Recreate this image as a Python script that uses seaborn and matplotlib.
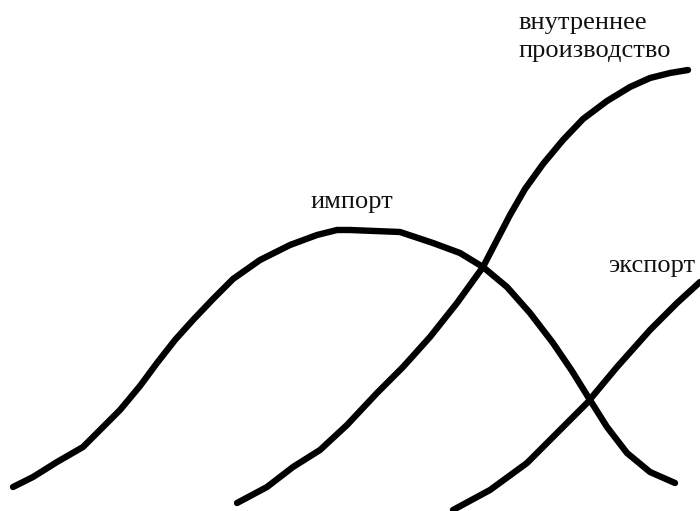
import pandas as pd
import matplotlib.pyplot as plt
import seaborn as sns

# ================================================================
# curves, in picture pixels (y grows downward)
import_x = [13, 33, 57, 83, 100, 120, 140, 157, 175, 193, 213, 233, 260, 290, 317, 337,
            350, 400, 433, 460, 483, 507, 530, 553, 572, 590, 607, 627, 650, 675]
import_y = [487, 477, 462, 447, 430, 410, 386, 363, 340, 320, 299, 279, 260, 245, 235, 230,
            230, 232, 243, 253, 267, 287, 313, 343, 371, 400, 427, 453, 472, 483]

domestic_x = [237, 267, 293, 320, 347, 377, 403, 430, 457, 483, 497, 510, 525, 543, 563,
              583, 607, 630, 650, 670, 688]
domestic_y = [503, 487, 467, 450, 425, 393, 367, 337, 303, 267, 240, 215, 189, 164, 140,
              119, 101, 87, 78, 73, 70]

export_x = [453, 490, 527, 557, 587, 617, 650, 677, 700]
export_y = [510, 490, 463, 433, 403, 367, 330, 303, 282]

labels = ["импорт", "внутреннее\nпроизводство", "экспорт"]
# ================================================================

df = pd.concat([
    pd.DataFrame({"x": import_x, "y": import_y, "curve": labels[0]}),
    pd.DataFrame({"x": domestic_x, "y": domestic_y, "curve": labels[1]}),
    pd.DataFrame({"x": export_x, "y": export_y, "curve": labels[2]}),
])

sns.set_theme(style="white")
plt.rcParams["font.family"] = ["Liberation Serif", "DejaVu Serif"]

fig = plt.figure(figsize=(7, 5.11), dpi=100)
ax = fig.add_axes([0, 0, 1, 1])
sns.lineplot(ax=ax, data=df, x="x", y="y", hue="curve", palette=["black"] * 3,
             sort=False, estimator=None, linewidth=4.6, legend=False)
for line in ax.get_lines():
    line.set_solid_capstyle("round")
    line.set_solid_joinstyle("round")

ax.set_xlim(0, 700)
ax.set_ylim(511, 0)
ax.axis("off")

# Labels.
ax.text(310, 202, labels[0], fontsize=19, ha="left", va="center", color="#111111")
ax.text(518, 37, labels[1], fontsize=19, ha="left", va="center", color="#111111",
        linespacing=1.3)
ax.text(608, 266, labels[2], fontsize=19, ha="left", va="center", color="#111111")

plt.savefig("out.png", dpi=100)
